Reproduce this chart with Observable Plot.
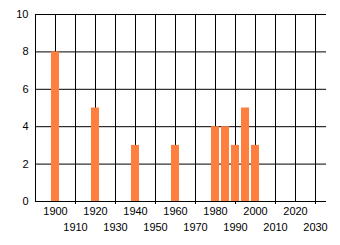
<!DOCTYPE html>
<html><head><meta charset="utf-8">
<script src="https://cdn.jsdelivr.net/npm/d3@7"></script>
<script src="https://cdn.jsdelivr.net/npm/@observablehq/plot@0.6"></script>
<style>body{margin:0;background:#fff}</style>
</head><body><div id="chart"></div>
<script>
const years = [1900, 1920, 1940, 1960, 1980, 1985, 1990, 1995, 2000];
const counts = [8, 5, 3, 3, 4, 4, 3, 5, 3];
const upperTickLabels = [1900, 1920, 1940, 1960, 1980, 2000, 2020];
const lowerTickLabels = [1910, 1930, 1950, 1970, 1990, 2010, 2030];
const gridYears = [1890, 1900, 1910, 1920, 1930, 1940, 1950, 1960, 1970, 1980, 1990, 2000, 2010, 2020, 2030];
const yTicks = [0, 2, 4, 6, 8, 10];
const xDomain = [1890, 2035.5];
const yDomain = [0, 10];

const data = years.map((year, i) => ({year, count: counts[i]}));
const font = "'Liberation Sans', Arial, sans-serif";

const chart = Plot.plot({
  width: 340,
  height: 245,
  marginLeft: 35,
  marginRight: 14,
  marginTop: 14,
  marginBottom: 44,
  style: {fontFamily: font, fontSize: "11px", background: "#fff", color: "#000"},
  x: {domain: xDomain},
  y: {domain: yDomain},
  marks: [
    Plot.ruleY(yTicks, {stroke: "#000", strokeWidth: 1}),
    Plot.ruleX(gridYears, {stroke: "#000", strokeWidth: 1}),
    Plot.rectY(data, {x1: d => d.year - 2, x2: d => d.year + 2, y1: 0, y2: "count", fill: "#FF7F3F"}),
    Plot.axisY({ticks: yTicks, tickSize: 0, tickPadding: 7, fontSize: 11, label: null, tickFormat: d => `${d}`}),
    Plot.axisX({ticks: upperTickLabels, tickSize: 0, tickPadding: 6, fontSize: 11, label: null, tickFormat: d => `${d}`}),
    Plot.axisX({ticks: lowerTickLabels, tickSize: 3, tickPadding: 19, fontSize: 11, label: null, stroke: "#000", tickFormat: d => `${d}`})
  ]
});
document.getElementById("chart").appendChild(chart);
</script>
</body></html>
